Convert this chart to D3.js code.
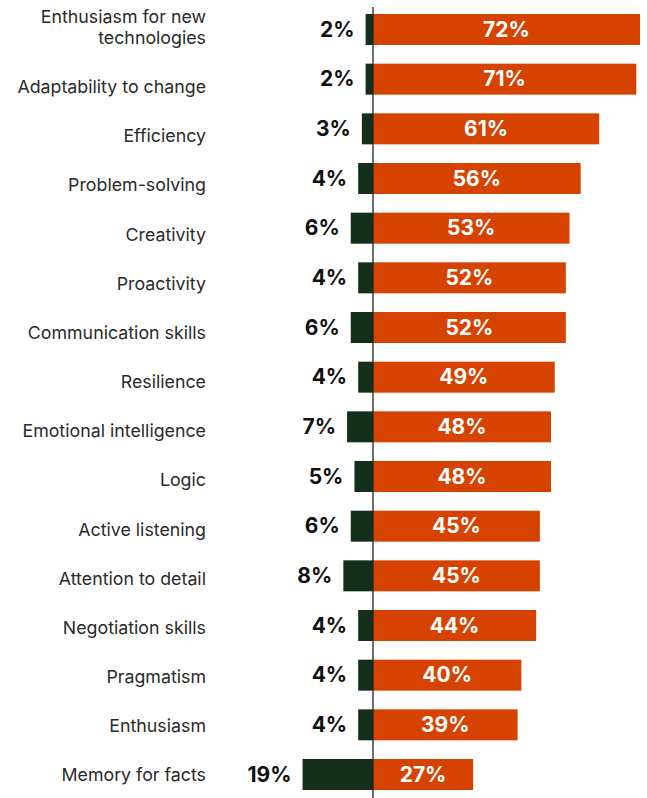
<!DOCTYPE html>
<html>
<head>
<meta charset="utf-8">
<script src="https://cdn.jsdelivr.net/npm/d3@7"></script>
<style>
  html, body { margin: 0; padding: 0; background: #fff; }
  svg { display: block; }
</style>
</head>
<body>
<svg id="chart" width="647" height="798"></svg>
<script>
// Skills: share rating each as declining (left) vs. growing (right)
const categories = [
  ["Enthusiasm for new", "technologies"],
  ["Adaptability to change"],
  ["Efficiency"],
  ["Problem-solving"],
  ["Creativity"],
  ["Proactivity"],
  ["Communication skills"],
  ["Resilience"],
  ["Emotional intelligence"],
  ["Logic"],
  ["Active listening"],
  ["Attention to detail"],
  ["Negotiation skills"],
  ["Pragmatism"],
  ["Enthusiasm"],
  ["Memory for facts"]
];
const negativeValues = [2, 2, 3, 4, 6, 4, 6, 4, 7, 5, 6, 8, 4, 4, 4, 19];
const positiveValues = [72, 71, 61, 56, 53, 52, 52, 49, 48, 48, 45, 45, 44, 40, 39, 27];

const ORANGE = "#d64300";
const GREEN = "#14301b";
const FONT = "Inter, 'Noto Sans', sans-serif";

const svg = d3.select("#chart");
const zeroX = 373;

const ids = categories.map((c, i) => i);
const y = d3.scaleBand().domain(ids).range([14, 790]).paddingInner(0.376).paddingOuter(0);
const w = d3.scaleLinear().domain([0, 72]).range([0, 267]);
// category labels sit on their own slightly tighter grid (last line of each label)
const yLabel = d3.scalePoint().domain(ids).range([37.4, 775]);

const rows = svg.selectAll("g.row").data(ids).join("g").attr("class", "row");

// growing share
rows.append("rect")
  .attr("x", zeroX)
  .attr("y", i => y(i))
  .attr("width", i => w(positiveValues[i]))
  .attr("height", y.bandwidth())
  .attr("fill", ORANGE);

// declining share
rows.append("rect")
  .attr("x", i => zeroX - w(negativeValues[i]))
  .attr("y", i => y(i))
  .attr("width", i => w(negativeValues[i]))
  .attr("height", y.bandwidth())
  .attr("fill", GREEN);

// value labels
rows.append("text")
  .attr("x", i => zeroX + w(positiveValues[i]) / 2)
  .attr("y", i => y(i) + y.bandwidth() / 2)
  .attr("dy", "0.34em")
  .attr("text-anchor", "middle")
  .attr("fill", "#fff")
  .attr("font-family", FONT)
  .attr("font-weight", 700)
  .attr("font-size", 21)
  .text(i => positiveValues[i] + "%");

rows.append("text")
  .attr("x", i => zeroX - w(negativeValues[i]) - 11)
  .attr("y", i => y(i) + y.bandwidth() / 2)
  .attr("dy", "0.34em")
  .attr("text-anchor", "end")
  .attr("fill", "#111")
  .attr("font-family", FONT)
  .attr("font-weight", 700)
  .attr("font-size", 21)
  .text(i => negativeValues[i] + "%");

// category labels
const lineH = 21;
rows.append("text")
  .attr("text-anchor", "end")
  .attr("fill", "#2a2a2a")
  .attr("font-family", FONT)
  .attr("font-size", 17.8)
  .each(function(i) {
    const lines = categories[i];
    const cy = yLabel(i);
    const t = d3.select(this);
    lines.forEach((ln, k) => {
      t.append("tspan")
        .attr("x", 206)
        .attr("y", cy + (k - (lines.length - 1)) * lineH)
        .attr("dy", "0.36em")
        .text(ln);
    });
  });

// zero line
svg.append("line")
  .attr("x1", zeroX).attr("x2", zeroX)
  .attr("y1", 7).attr("y2", 798)
  .attr("stroke", "#222")
  .attr("stroke-width", 1.3);
</script>
</body>
</html>
